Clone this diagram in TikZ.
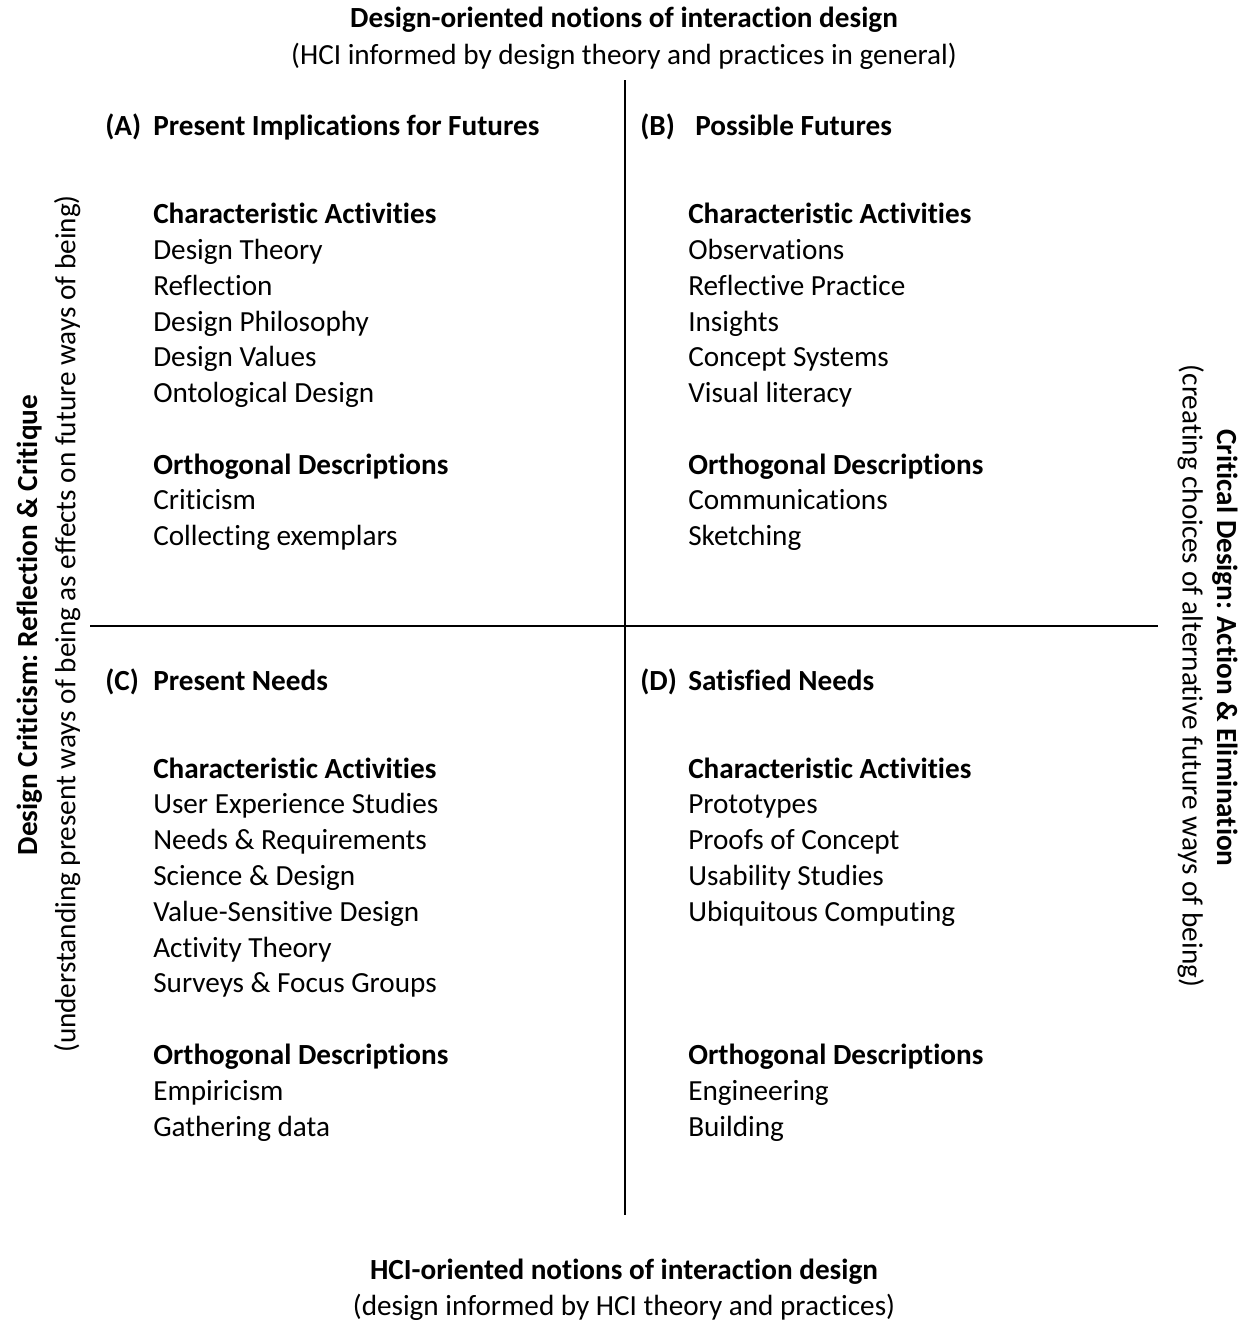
\documentclass[tikz,border=0pt]{standalone}
\usepackage{fontspec}
\setmainfont[Ligatures={NoCommon}]{Carlito}
\frenchspacing
\begin{document}
\begin{tikzpicture}[x=0.75pt,y=-0.75pt,
  base/.style={inner sep=0pt,font=\fontsize{21.9}{26}\selectfont,text height=0.644em,text depth=0pt},
  baseb/.style={base,font=\fontsize{21.9}{26}\selectfont\bfseries},
  txt/.style={base,anchor=west,yshift=-3.75pt},
  hd/.style={baseb,anchor=west,yshift=-3.75pt},
  ctr/.style={base,anchor=center,yshift=-3.75pt},
  ctrb/.style={baseb,anchor=center,yshift=-3.75pt},
  rot/.style={base,anchor=center},
  rotb/.style={baseb,anchor=center},
  axis/.style={line width=1.2pt}]
\useasboundingbox (0,0) rectangle (1247,1321);
% axes
\coordinate (vt) at (625,80);
\coordinate (vb) at (625,1215);
\coordinate (hl) at (90,626);
\coordinate (hr) at (1158,626);
\draw[axis] (vt) -- (vb);
\draw[axis] (hl) -- (hr);
% titles
\node[ctrb] (t1) at (624,18) {Design-oriented notions of interaction design};
\node[ctr] (t2) at (624,55) {(HCI informed by design theory and practices in general)};
\node[ctrb] (b1) at (624,1270) {HCI-oriented notions of interaction design};
\node[ctr] (b2) at (624,1306) {(design informed by HCI theory and practices)};
\node[rotb,rotate=90] (l1) at (33,625) {Design Criticism: Reflection \& Critique};
\node[rot,rotate=90] (l2) at (71,624) {(understanding present ways of being as effects on future ways of being)};
\node[rotb,rotate=-90] (r1) at (1222,648) {Critical Design: Action \& Elimination};
\node[rot,rotate=-90] (r2) at (1187,676) {(creating choices of alternative future ways of being)};
% quadrant A
\node[hd] (aL) at (105,126) {(A)};
\node[hd] (aT) at (153,126) {Present Implications for Futures};
\node[hd] (aC) at (153,214) {Characteristic Activities};
\node[txt] (a1) at (153,250) {Design Theory};
\node[txt] (a2) at (153,286) {Reflection};
\node[txt] (a3) at (153,322) {Design Philosophy};
\node[txt] (a4) at (153,357) {Design Values};
\node[txt] (a5) at (153,393) {Ontological Design};
\node[hd] (aO) at (153,465) {Orthogonal Descriptions};
\node[txt] (a6) at (153,500) {Criticism};
\node[txt] (a7) at (153,536) {Collecting exemplars};
% quadrant B
\node[hd] (bL) at (640,126) {(B)};
\node[hd] (bT) at (695,126) {Possible Futures};
\node[hd] (bC) at (688,214) {Characteristic Activities};
\node[txt] (b1i) at (688,250) {Observations};
\node[txt] (b2i) at (688,286) {Reflective Practice};
\node[txt] (b3i) at (688,322) {Insights};
\node[txt] (b4i) at (688,357) {Concept Systems};
\node[txt] (b5i) at (688,393) {Visual literacy};
\node[hd] (bO) at (688,465) {Orthogonal Descriptions};
\node[txt] (b6i) at (688,500) {Communications};
\node[txt] (b7i) at (688,536) {Sketching};
% quadrant C
\node[hd] (cL) at (105,681) {(C)};
\node[hd] (cT) at (153,681) {Present Needs};
\node[hd] (cC) at (153,769) {Characteristic Activities};
\node[txt] (c1) at (153,804) {User Experience Studies};
\node[txt] (c2) at (153,840) {Needs \& Requirements};
\node[txt] (c3) at (153,876) {Science \& Design};
\node[txt] (c4) at (153,912) {Value-Sensitive Design};
\node[txt] (c5) at (153,948) {Activity Theory};
\node[txt] (c6) at (153,983) {Surveys \& Focus Groups};
\node[hd] (cO) at (153,1055) {Orthogonal Descriptions};
\node[txt] (c7) at (153,1091) {Empiricism};
\node[txt] (c8) at (153,1127) {Gathering data};
% quadrant D
\node[hd] (dL) at (640,681) {(D)};
\node[hd] (dT) at (688,681) {Satisfied Needs};
\node[hd] (dC) at (688,769) {Characteristic Activities};
\node[txt] (d1) at (688,804) {Prototypes};
\node[txt] (d2) at (688,840) {Proofs of Concept};
\node[txt] (d3) at (688,876) {Usability Studies};
\node[txt] (d4) at (688,912) {Ubiquitous Computing};
\node[hd] (dO) at (688,1055) {Orthogonal Descriptions};
\node[txt] (d5) at (688,1091) {Engineering};
\node[txt] (d6) at (688,1127) {Building};
\end{tikzpicture}
\end{document}
